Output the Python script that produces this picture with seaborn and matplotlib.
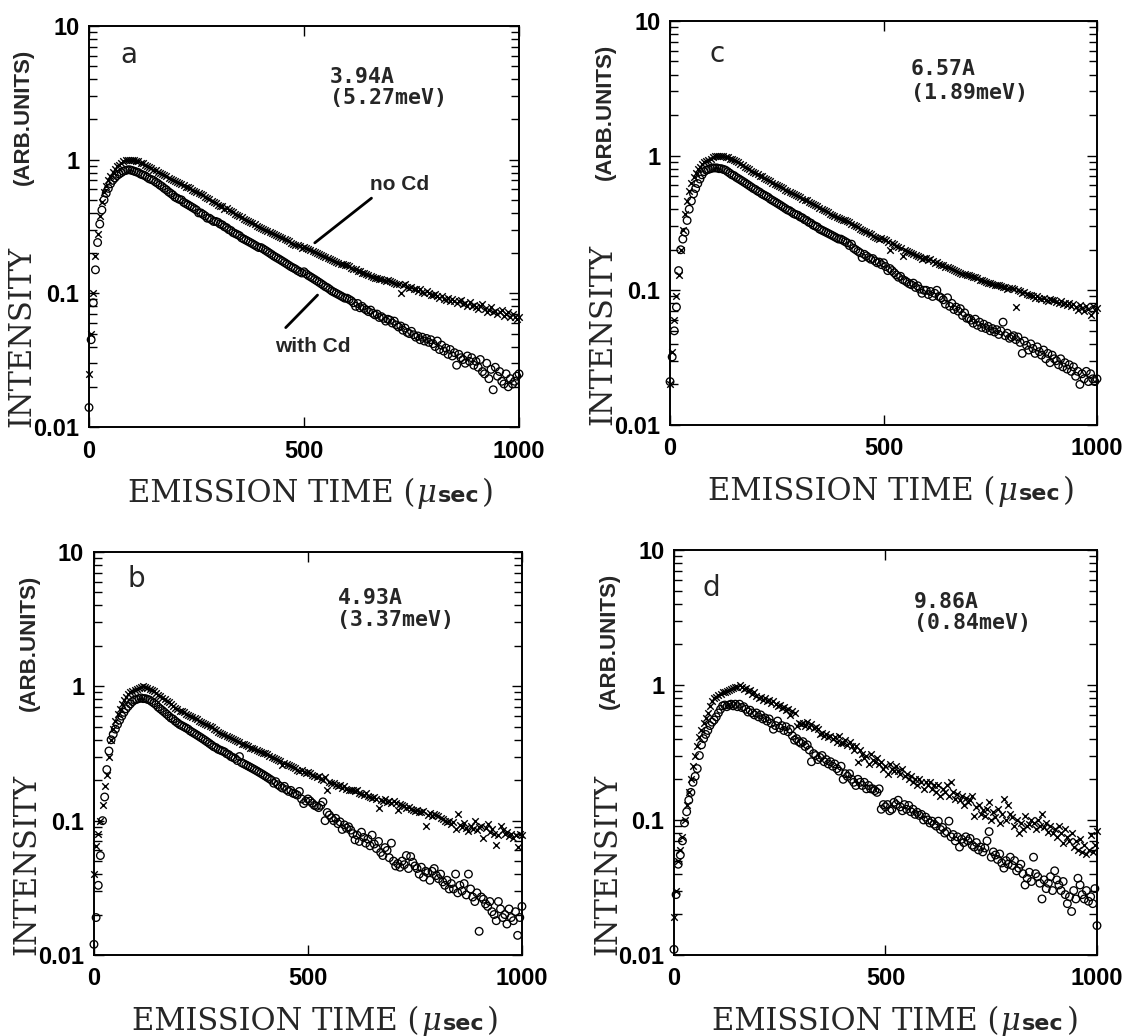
import numpy as np
import matplotlib
matplotlib.use("Agg")
import matplotlib.pyplot as plt
import seaborn as sns
from matplotlib.ticker import LogLocator, NullLocator

# emission time channels (5 usec bins)
time_us = list(range(0, 1001, 5))

# ---- panel a : 3.94A ----
a_no_cd = [
    .025, .05, .10, .19, .28, .38, .48, .57, .64, .71,
    .76, .81, .85, .89, .92, .95, .97, .99, 1.0, 1.0,
    .99, .99, .97, .97, .95, .94, .92, .90, .88, .86,
    .84, .83, .81, .80, .78, .77, .75, .73, .72, .70,
    .69, .68, .665, .655, .645, .63, .62, .61, .595, .585,
    .57, .56, .55, .54, .525, .515, .505, .495, .485, .475,
    .46, .45, .447, .43, .432, .418, .41, .403, .392, .388,
    .38, .37, .36, .355, .35, .34, .335, .33, .32, .315,
    .31, .305, .30, .295, .29, .285, .28, .275, .27, .265,
    .26, .255, .25, .245, .24, .235, .23, .23, .225, .22,
    .222, .218, .214, .212, .207, .204, .20, .197, .193, .19,
    .186, .183, .18, .177, .175, .172, .17, .167, .165, .163,
    .162, .159, .156, .153, .151, .148, .146, .143, .141, .14,
    .137, .135, .133, .131, .13, .128, .127, .126, .124, .125,
    .124, .122, .12, .118, .117, .10, .115, .118, .112, .11,
    .112, .108, .107, .105, .107, .103, .10, .104, .10, .098,
    .097, .099, .095, .093, .096, .091, .089, .093, .088, .09,
    .088, .085, .087, .089, .083, .085, .081, .086, .08, .082,
    .079, .077, .08, .083, .076, .073, .075, .079, .072, .074,
    .07, .073, .075, .068, .07, .072, .066, .07, .067, .064,
    .066]
a_with_cd = [
    .014, .045, .085, .15, .24, .33, .42, .50, .56, .61,
    .66, .70, .73, .76, .78, .80, .82, .83, .84, .84,
    .83, .82, .81, .80, .78, .77, .76, .74, .72, .71,
    .70, .68, .665, .645, .63, .61, .595, .575, .56, .545,
    .525, .515, .505, .50, .48, .47, .46, .45, .44, .43,
    .42, .40, .40, .39, .38, .365, .365, .355, .345, .345,
    .34, .33, .325, .315, .31, .30, .295, .285, .28, .275,
    .27, .26, .255, .25, .245, .24, .235, .23, .225, .22,
    .22, .215, .21, .205, .20, .195, .19, .186, .182, .178,
    .174, .17, .166, .162, .158, .155, .152, .148, .145, .142,
    .145, .14, .136, .133, .13, .127, .124, .121, .118, .115,
    .112, .11, .107, .104, .102, .10, .098, .096, .094, .092,
    .092, .09, .088, .085, .08, .084, .078, .08, .077, .075,
    .073, .075, .071, .069, .07, .066, .067, .065, .062, .064,
    .063, .06, .062, .058, .056, .057, .053, .055, .051, .05,
    .052, .049, .047, .048, .045, .047, .044, .046, .043, .045,
    .042, .04, .044, .038, .041, .037, .039, .035, .038, .034,
    .036, .029, .035, .033, .032, .03, .034, .031, .033, .029,
    .031, .028, .032, .026, .025, .03, .023, .027, .019, .028,
    .024, .026, .022, .021, .025, .02, .023, .021, .022, .024,
    .025]

# ---- panel c : 6.57A ----
c_no_cd = [
    .02, .035, .06, .09, .13, .20, .28, .37, .46, .55,
    .63, .69, .74, .79, .83, .86, .89, .91, .93, .95,
    .97, .99, 1.0, 1.0, 1.0, .99, .98, .97, .95, .94,
    .93, .91, .89, .87, .85, .83, .81, .79, .77, .755,
    .74, .725, .71, .70, .685, .67, .655, .645, .63, .62,
    .605, .595, .585, .57, .56, .55, .54, .53, .52, .51,
    .50, .49, .48, .47, .465, .455, .445, .44, .43, .42,
    .41, .40, .395, .385, .38, .37, .365, .355, .35, .345,
    .34, .335, .33, .325, .32, .31, .305, .30, .295, .285,
    .28, .275, .27, .265, .26, .255, .25, .245, .24, .245,
    .24, .235, .23, .20, .225, .22, .215, .21, .205, .18,
    .20, .197, .193, .19, .186, .183, .18, .177, .17, .173,
    .175, .168, .172, .165, .16, .163, .158, .155, .153, .15,
    .148, .146, .143, .141, .139, .137, .135, .133, .131, .129,
    .13, .128, .126, .125, .123, .12, .119, .118, .115, .114,
    .113, .112, .11, .109, .11, .107, .105, .106, .103, .104,
    .104, .102, .075, .10, .098, .096, .097, .094, .092, .093,
    .09, .088, .09, .087, .086, .088, .085, .083, .086, .084,
    .085, .082, .08, .083, .079, .081, .078, .08, .076, .079,
    .075, .072, .078, .074, .07, .077, .073, .065, .076, .072,
    .074]
c_with_cd = [
    .021, .032, .05, .075, .14, .20, .24, .27, .33, .40,
    .46, .52, .57, .62, .67, .72, .76, .78, .79, .80,
    .81, .81, .81, .80, .80, .79, .78, .76, .74, .72,
    .71, .69, .675, .66, .645, .63, .615, .60, .585, .57,
    .56, .545, .535, .52, .51, .50, .49, .475, .465, .455,
    .445, .435, .425, .415, .405, .395, .39, .38, .37, .365,
    .36, .35, .345, .335, .33, .32, .315, .305, .30, .295,
    .285, .28, .275, .27, .265, .26, .255, .25, .245, .24,
    .24, .235, .23, .225, .215, .22, .205, .20, .195, .19,
    .175, .185, .18, .175, .17, .172, .165, .16, .162, .155,
    .16, .15, .14, .145, .14, .135, .13, .125, .127, .12,
    .118, .115, .112, .11, .113, .105, .108, .102, .095, .10,
    .10, .093, .098, .09, .095, .10, .09, .088, .085, .079,
    .088, .076, .08, .072, .075, .07, .073, .065, .068, .062,
    .062, .06, .057, .061, .055, .058, .053, .056, .052, .054,
    .05, .052, .049, .051, .047, .05, .058, .046, .048, .044,
    .045, .046, .043, .045, .041, .034, .042, .039, .036, .04,
    .037, .034, .038, .035, .033, .036, .031, .034, .029, .033,
    .031, .03, .028, .031, .027, .029, .026, .028, .025, .027,
    .023, .025, .02, .024, .022, .025, .021, .024, .022, .021,
    .022]

# ---- panel b : 4.93A ----
b_no_cd = [
    .04, .065, .08, .10, .13, .18, .22, .30, .40, .48,
    .55, .62, .68, .74, .79, .83, .87, .90, .92, .94,
    .95, .97, .98, 1.0, .99, .97, .96, .94, .92, .89,
    .86, .84, .82, .80, .78, .76, .74, .71, .69, .675,
    .66, .65, .64, .625, .615, .60, .59, .58, .57, .555,
    .545, .535, .525, .515, .505, .495, .485, .47, .46, .45,
    .44, .435, .43, .42, .41, .405, .40, .39, .385, .375,
    .37, .365, .36, .35, .345, .34, .335, .33, .325, .32,
    .32, .315, .305, .30, .295, .29, .285, .28, .26, .27,
    .265, .26, .255, .25, .245, .24, .235, .24, .23, .225,
    .23, .225, .22, .215, .21, .215, .205, .20, .21, .17,
    .195, .19, .19, .185, .18, .185, .175, .18, .172, .17,
    .17, .168, .165, .17, .16, .158, .155, .16, .152, .15,
    .148, .15, .145, .125, .143, .14, .145, .138, .14, .135,
    .14, .135, .12, .133, .13, .128, .125, .127, .122, .12,
    .118, .12, .116, .115, .117, .092, .11, .114, .108, .112,
    .11, .108, .105, .103, .10, .098, .10, .095, .097, .086,
    .113, .093, .09, .096, .088, .084, .092, .087, .10, .085,
    .089, .092, .074, .088, .095, .082, .086, .08, .066, .078,
    .091, .085, .08, .083, .077, .08, .074, .078, .064, .08,
    .078]
b_with_cd = [
    .012, .019, .033, .055, .10, .15, .24, .33, .40, .44,
    .48, .52, .56, .60, .64, .68, .71, .74, .77, .79,
    .80, .81, .82, .81, .81, .80, .79, .77, .75, .73,
    .70, .68, .66, .64, .62, .60, .58, .57, .55, .535,
    .52, .51, .50, .49, .48, .465, .455, .445, .435, .425,
    .415, .405, .395, .385, .375, .365, .355, .35, .34, .335,
    .33, .325, .315, .31, .30, .295, .29, .28, .30, .27,
    .265, .26, .255, .25, .245, .24, .235, .23, .225, .22,
    .215, .21, .205, .20, .19, .195, .185, .18, .175, .18,
    .17, .165, .168, .16, .158, .155, .165, .145, .134, .14,
    .145, .14, .135, .13, .128, .125, .13, .138, .10, .115,
    .11, .105, .10, .104, .095, .098, .086, .093, .088, .09,
    .085, .08, .072, .078, .07, .082, .075, .068, .073, .065,
    .078, .067, .062, .07, .058, .055, .063, .06, .053, .068,
    .05, .046, .048, .045, .05, .047, .055, .044, .054, .049,
    .046, .044, .04, .045, .038, .042, .041, .036, .042, .044,
    .039, .037, .04, .035, .033, .036, .031, .034, .031, .04,
    .029, .033, .03, .034, .028, .04, .031, .027, .025, .029,
    .015, .027, .026, .024, .023, .025, .021, .02, .018, .025,
    .022, .019, .02, .017, .022, .019, .018, .021, .014, .019,
    .023]

# ---- panel d : 9.86A ----
d_no_cd = [
    .019, .03, .05, .06, .075, .10, .13, .16, .20, .25,
    .30, .35, .41, .46, .52, .57, .62, .70, .76, .80,
    .81, .84, .86, .88, .89, .90, .92, .93, .95, .96,
    .97, 1.0, .96, .93, .95, .90, .92, .86, .88, .83,
    .80, .82, .78, .80, .76, .78, .74, .76, .72, .70,
    .71, .68, .69, .65, .66, .60, .64, .62, .50, .52,
    .51, .52, .50, .53, .49, .51, .48, .49, .47, .43,
    .44, .42, .43, .41, .42, .40, .41, .38, .42, .37,
    .37, .39, .36, .38, .35, .33, .35, .27, .33, .31,
    .29, .30, .26, .31, .28, .27, .29, .26, .27, .24,
    .25, .22, .26, .24, .23, .25, .23, .22, .24, .21,
    .22, .20, .21, .19, .20, .18, .20, .19, .17, .19,
    .18, .19, .17, .18, .16, .18, .15, .17, .16, .18,
    .15, .19, .16, .144, .157, .14, .15, .13, .145, .135,
    .14, .15, .107, .125, .13, .11, .118, .107, .12, .135,
    .10, .115, .105, .12, .095, .11, .144, .10, .128, .11,
    .105, .09, .10, .08, .095, .085, .107, .09, .093, .10,
    .095, .085, .10, .09, .11, .088, .095, .082, .09, .08,
    .085, .075, .09, .08, .067, .085, .075, .07, .08, .063,
    .07, .06, .072, .058, .065, .056, .06, .078, .058, .065,
    .083]
d_with_cd = [
    .011, .028, .047, .055, .07, .095, .115, .14, .16, .19,
    .21, .24, .30, .36, .40, .43, .46, .50, .53, .55,
    .58, .62, .66, .70, .71, .69, .71, .72, .70, .72,
    .69, .72, .68, .69, .66, .63, .65, .62, .60, .62,
    .58, .60, .56, .57, .54, .56, .52, .47, .50, .54,
    .48, .50, .46, .49, .45, .47, .42, .39, .40, .38,
    .37, .38, .35, .36, .33, .27, .31, .30, .28, .29,
    .30, .27, .28, .26, .27, .25, .26, .24, .23, .25,
    .20, .22, .21, .22, .20, .19, .18, .20, .19, .18,
    .19, .17, .18, .17, .17, .165, .16, .17, .12, .13,
    .125, .13, .117, .12, .135, .13, .14, .125, .117, .13,
    .12, .128, .115, .12, .11, .114, .108, .11, .10, .105,
    .10, .095, .098, .093, .09, .098, .085, .088, .08, .082,
    .098, .075, .078, .07, .075, .063, .072, .068, .075, .07,
    .073, .065, .063, .068, .06, .063, .058, .062, .07, .082,
    .053, .058, .055, .051, .056, .048, .044, .05, .047, .053,
    .046, .05, .042, .044, .047, .04, .033, .037, .041, .035,
    .053, .04, .038, .034, .026, .036, .031, .034, .038, .03,
    .042, .036, .033, .03, .035, .028, .024, .027, .021, .03,
    .026, .037, .033, .028, .026, .03, .025, .027, .024, .031,
    .0165]

panel_letters = ["a", "c", "b", "d"]
wavelength_labels = ["3.94A", "6.57A", "4.93A", "9.86A"]
energy_labels = ["(5.27meV)", "(1.89meV)", "(3.37meV)", "(0.84meV)"]
no_cd_series = [a_no_cd, c_no_cd, b_no_cd, d_no_cd]
with_cd_series = [a_with_cd, c_with_cd, b_with_cd, d_with_cd]

for s in no_cd_series + with_cd_series:
    assert len(s) == len(time_us), len(s)

# layout (figure fractions) and text placement (axes fractions)
axes_rects = [
    [0.0789, 0.5878, 0.3812, 0.3871],
    [0.5940, 0.5898, 0.3785, 0.3900],
    [0.0833, 0.0782, 0.3794, 0.3890],
    [0.5975, 0.0782, 0.3750, 0.3910],
]
letter_pos = [(0.072, 0.928), (0.093, 0.918), (0.078, 0.932), (0.068, 0.905)]
info_pos = [(0.561, 0.872, 0.820), (0.564, 0.881, 0.822),
            (0.569, 0.885, 0.830), (0.568, 0.871, 0.820)]

sns.set_style("ticks")
SANS = ["Liberation Sans", "DejaVu Sans"]
plt.rcParams["font.family"] = SANS
plt.rcParams["font.weight"] = "bold"
plt.rcParams["axes.linewidth"] = 1.4

fig = plt.figure(figsize=(11.28, 10.36), dpi=100)

for i in range(4):
    ax = fig.add_axes(axes_rects[i])

    sns.scatterplot(x=time_us, y=no_cd_series[i], ax=ax, marker="x",
                    color="black", s=22, linewidth=1.0, clip_on=False, zorder=3)
    sns.scatterplot(x=time_us, y=with_cd_series[i], ax=ax, marker="o",
                    color="black", facecolor="none", edgecolor="black",
                    s=30, linewidth=0.95, clip_on=False, zorder=3)

    ax.set_yscale("log")
    ax.set_xlim(0, 1000)
    ax.set_ylim(0.01, 10)
    ax.set_xticks([0, 500, 1000], ["0", "500", "1000"])
    ax.xaxis.set_minor_locator(NullLocator())
    ax.set_yticks([0.01, 0.1, 1, 10], ["0.01", "0.1", "1", "10"])
    ax.yaxis.set_minor_locator(LogLocator(base=10, subs=np.arange(2, 10), numticks=20))
    ax.tick_params(which="both", direction="in", top=True, right=True,
                   width=1.0, colors="black", labelsize=17)
    ax.tick_params(which="major", length=7, pad=7)
    ax.tick_params(which="minor", length=6)
    ax.tick_params(axis="x", which="major", pad=9)
    ax.set_xlabel("")
    ax.set_ylabel("")
    for sp in ax.spines.values():
        sp.set_color("black")

    # panel letter and wavelength / energy
    ax.text(letter_pos[i][0], letter_pos[i][1], panel_letters[i],
            transform=ax.transAxes, ha="left", va="center",
            family="DejaVu Sans", weight="normal", size=20)
    ax.text(info_pos[i][0], info_pos[i][1], wavelength_labels[i],
            transform=ax.transAxes, ha="left", va="center",
            family="DejaVu Sans Mono", weight="bold", size=15.5)
    ax.text(info_pos[i][0], info_pos[i][2], energy_labels[i],
            transform=ax.transAxes, ha="left", va="center",
            family="DejaVu Sans Mono", weight="bold", size=15.5)

    # y label: serif word + bold units
    ax.text(-0.157, 0.0, "INTENSITY", transform=ax.transAxes, rotation=90,
            ha="center", va="bottom", family="DejaVu Serif", weight="normal", size=22)
    ax.text(-0.152, 0.944, "(ARB.UNITS)", transform=ax.transAxes, rotation=90,
            ha="center", va="top", family=SANS, weight="bold", size=16)

    # x label: serif words, italic mu, bold "sec"
    yb = -0.186
    t1 = ax.text(0.09, yb, "EMISSION TIME (", transform=ax.transAxes,
                 ha="left", va="baseline", family="DejaVu Serif", weight="normal", size=22)
    t2 = ax.annotate("\u03bc", xy=(1, yb), xycoords=(t1, "axes fraction"),
                     xytext=(1, 0), textcoords="offset points", ha="left", va="baseline",
                     family="DejaVu Serif", style="italic", weight="normal", size=22)
    t3 = ax.annotate("sec", xy=(1, yb), xycoords=(t2, "axes fraction"),
                     xytext=(1, 0), textcoords="offset points", ha="left", va="baseline",
                     family="DejaVu Sans", weight="bold", size=16)
    ax.annotate(")", xy=(1, yb), xycoords=(t3, "axes fraction"),
                xytext=(2, 0), textcoords="offset points", ha="left", va="baseline",
                family="DejaVu Serif", weight="normal", size=22)

    if panel_letters[i] == "a":
        ax.annotate("", xy=(0.52, 0.455), xytext=(0.662, 0.575),
                    xycoords="axes fraction", textcoords="axes fraction",
                    arrowprops=dict(arrowstyle="-", lw=2.0, color="black"))
        ax.text(0.653, 0.604, "no Cd", transform=ax.transAxes, ha="left", va="center",
                family=SANS, weight="bold", size=15)
        ax.annotate("", xy=(0.536, 0.334), xytext=(0.453, 0.243),
                    xycoords="axes fraction", textcoords="axes fraction",
                    arrowprops=dict(arrowstyle="-", lw=2.0, color="black"))
        ax.text(0.432, 0.202, "with Cd", transform=ax.transAxes, ha="left", va="center",
                family=SANS, weight="bold", size=15)

fig.savefig("out.png", dpi=100)
